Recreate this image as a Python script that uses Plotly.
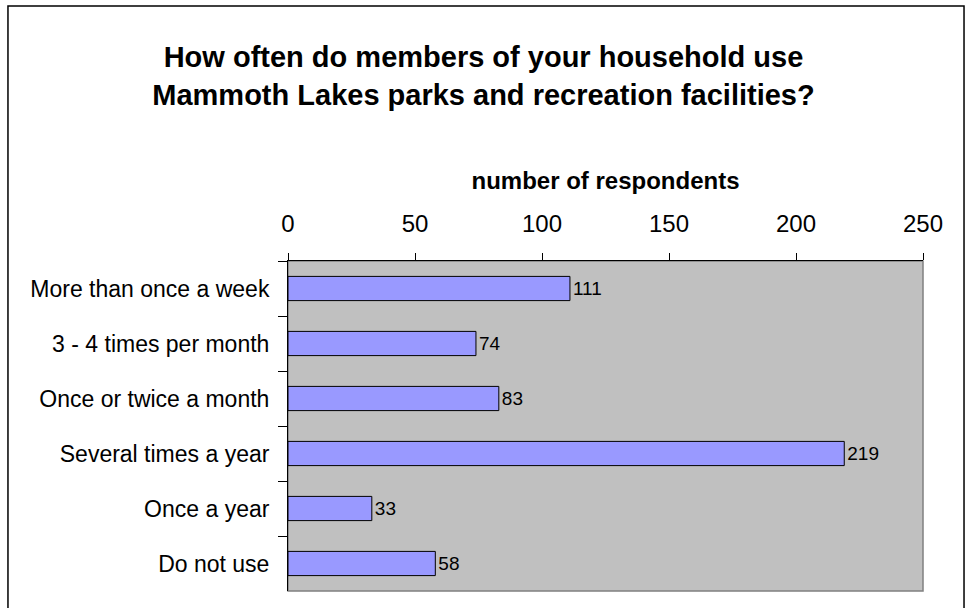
import plotly.graph_objects as go

# Datos
categorias = [
    "More than once a week",
    "3 - 4 times per month",
    "Once or twice a month",
    "Several times a year",
    "Once a year",
    "Do not use",
]
respuestas = [111, 74, 83, 219, 33, 58]
ticks_x = [0, 50, 100, 150, 200, 250]

FUENTE = "Liberation Sans, Arial, sans-serif"

fig = go.Figure()

fig.add_trace(go.Bar(
    x=respuestas,
    y=categorias,
    orientation="h",
    width=0.44,
    marker=dict(color="#9999FF", line=dict(color="black", width=1)),
    text=[str(v) for v in respuestas],
    textposition="outside",
    textfont=dict(family=FUENTE, size=19, color="black"),
    cliponaxis=False,
))

# recuadro exterior del gráfico
fig.add_shape(
    type="rect", xref="paper", yref="paper",
    x0=-0.441, x1=1.0646, y0=-0.08, y1=1.7727,
    line=dict(color="black", width=1.5), layer="below",
)
# borde gris del área de trazado (derecha / abajo)
fig.add_shape(
    type="rect", xref="paper", yref="paper",
    x0=0, x1=1, y0=0, y1=1,
    line=dict(color="#808080", width=1.5), layer="below",
)

fig.update_layout(
    width=967,
    height=608,
    margin=dict(l=288, r=44, t=261, b=17),
    paper_bgcolor="white",
    plot_bgcolor="#C0C0C0",
    showlegend=False,
    font=dict(family=FUENTE, color="black"),
    title=dict(
        text="How often do members of your household use<br>Mammoth Lakes parks and recreation facilities?",
        font=dict(family=FUENTE, size=29, color="black", weight="bold"),
        x=0.5, xref="container", xanchor="center",
        y=1 - 67 / 608, yref="container", yanchor="middle",
    ),
    bargap=0.56,
)

fig.update_xaxes(
    side="top",
    range=[0, 250],
    tickvals=ticks_x,
    ticks="outside",
    ticklen=7,
    tickcolor="black",
    tickfont=dict(size=24),
    ticklabelstandoff=11,
    showgrid=False,
    zeroline=False,
    showline=True,
    linecolor="black",
    linewidth=1,
    title=dict(text="<b>number of respondents</b>", font=dict(size=24), standoff=14),
)

fig.update_yaxes(
    autorange="reversed",
    ticks="outside",
    tickson="boundaries",
    ticklen=9,
    tickcolor="black",
    tickfont=dict(size=23),
    showgrid=False,
    showline=True,
    linecolor="black",
    linewidth=1,
    ticklabelstandoff=13,
)

# sin margen del body para que la figura quede alineada con la ventana
fig.write_html(
    "out.html",
    config={"displayModeBar": False},
    post_script="document.body.style.margin='0';",
)
